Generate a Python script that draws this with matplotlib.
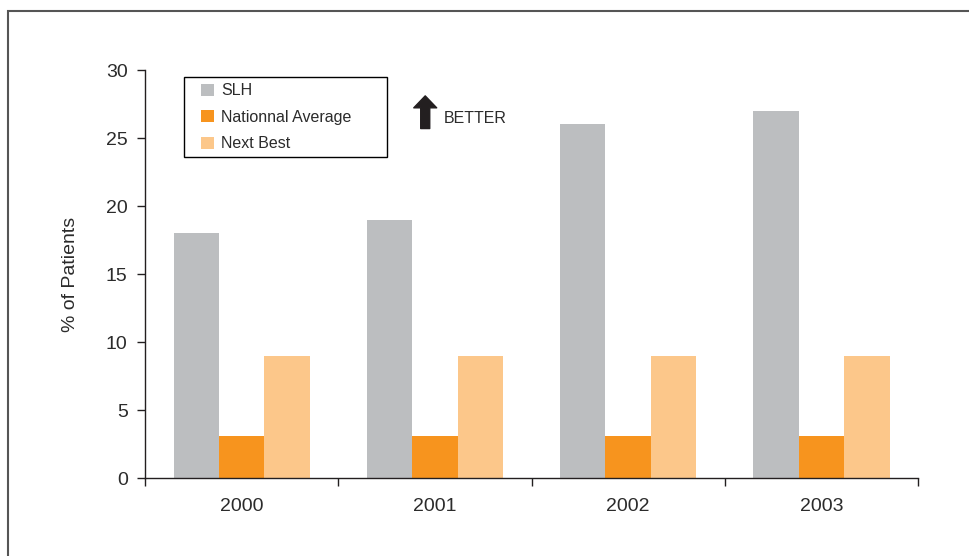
import numpy as np
import matplotlib
matplotlib.use('Agg')
from matplotlib import pyplot as plt
from matplotlib.patches import Rectangle

plt.rcParams['font.family'] = ['Liberation Sans', 'DejaVu Sans']

years = ['2000', '2001', '2002', '2003']
slh = [18, 19, 26, 27]
national = [3.1, 3.1, 3.1, 3.1]
next_best = [9, 9, 9, 9]

names = ['SLH', 'Nationnal Average', 'Next Best']
colors = ['#bcbec0', '#f7941e', '#fcc78a']
dark = '#231f20'

fig = plt.figure(figsize=(9.7, 5.56), dpi=100)
ax = fig.add_axes([0.1495, 0.1394, 0.7969, 0.7347])

x = np.arange(len(years))
w = 0.235
for k, vals in enumerate([slh, national, next_best]):
	ax.bar(x + (k - 1) * w, vals, width=w, color=colors[k], label=names[k], linewidth=0)

ax.set_xlim(-0.5, len(years) - 0.5)
ax.set_ylim(0, 30)
ax.set_yticks(range(0, 31, 5))

# boundary ticks without labels, year labels on the centres
ax.set_xticks(np.arange(-0.5, len(years), 1.0))
ax.set_xticklabels([])
ax.set_xticks(x, minor=True)
ax.set_xticklabels(years, minor=True)
ax.tick_params(axis='x', which='major', length=6, width=1, color=dark, direction='out')
ax.tick_params(axis='x', which='minor', length=0, pad=14, labelsize=14, labelcolor='#2b2b2b')
ax.tick_params(axis='y', length=5.5, width=1, color=dark, pad=7, labelsize=14, labelcolor='#2b2b2b')

for s in ['top', 'right']:
	ax.spines[s].set_visible(False)
for s in ['left', 'bottom']:
	ax.spines[s].set_color(dark)
	ax.spines[s].set_linewidth(1)

ax.set_ylabel('% of Patients', fontsize=14, color='#2b2b2b')
ax.yaxis.set_label_coords(-0.085, 0.5)

# legend entries without frame, box drawn separately (it is wider than the text)
leg = ax.legend(loc='upper left', bbox_to_anchor=(0.0724, 0.9677), borderaxespad=0,
	frameon=False, fontsize=11.5, handlelength=0.8, handleheight=0.8,
	handletextpad=0.45, labelspacing=0.72, borderpad=0)
for t in leg.get_texts():
	t.set_color('#2b2b2b')
ax.add_patch(Rectangle((0.0505, 0.787), 0.2626, 0.196, fill=False, edgecolor='black',
	linewidth=1, transform=ax.transAxes, clip_on=False))

ax.annotate('', xy=(0.95, 28.1), xytext=(0.95, 25.7),
	arrowprops=dict(arrowstyle='simple,head_length=0.86,head_width=1.65,tail_width=0.65',
		mutation_scale=10, color=dark, shrinkA=0, shrinkB=0))
ax.text(1.047, 26.45, 'BETTER', fontsize=11.5, color='#2b2b2b', va='center', ha='left')

# outer frame, cut off at the right and bottom
fig.patches.append(Rectangle((8 / 970, -0.1), 1.2, 1.1 - 10.5 / 556, fill=False,
	edgecolor='#555555', linewidth=1.5, transform=fig.transFigure, figure=fig))

fig.savefig('out.png', dpi=100)
